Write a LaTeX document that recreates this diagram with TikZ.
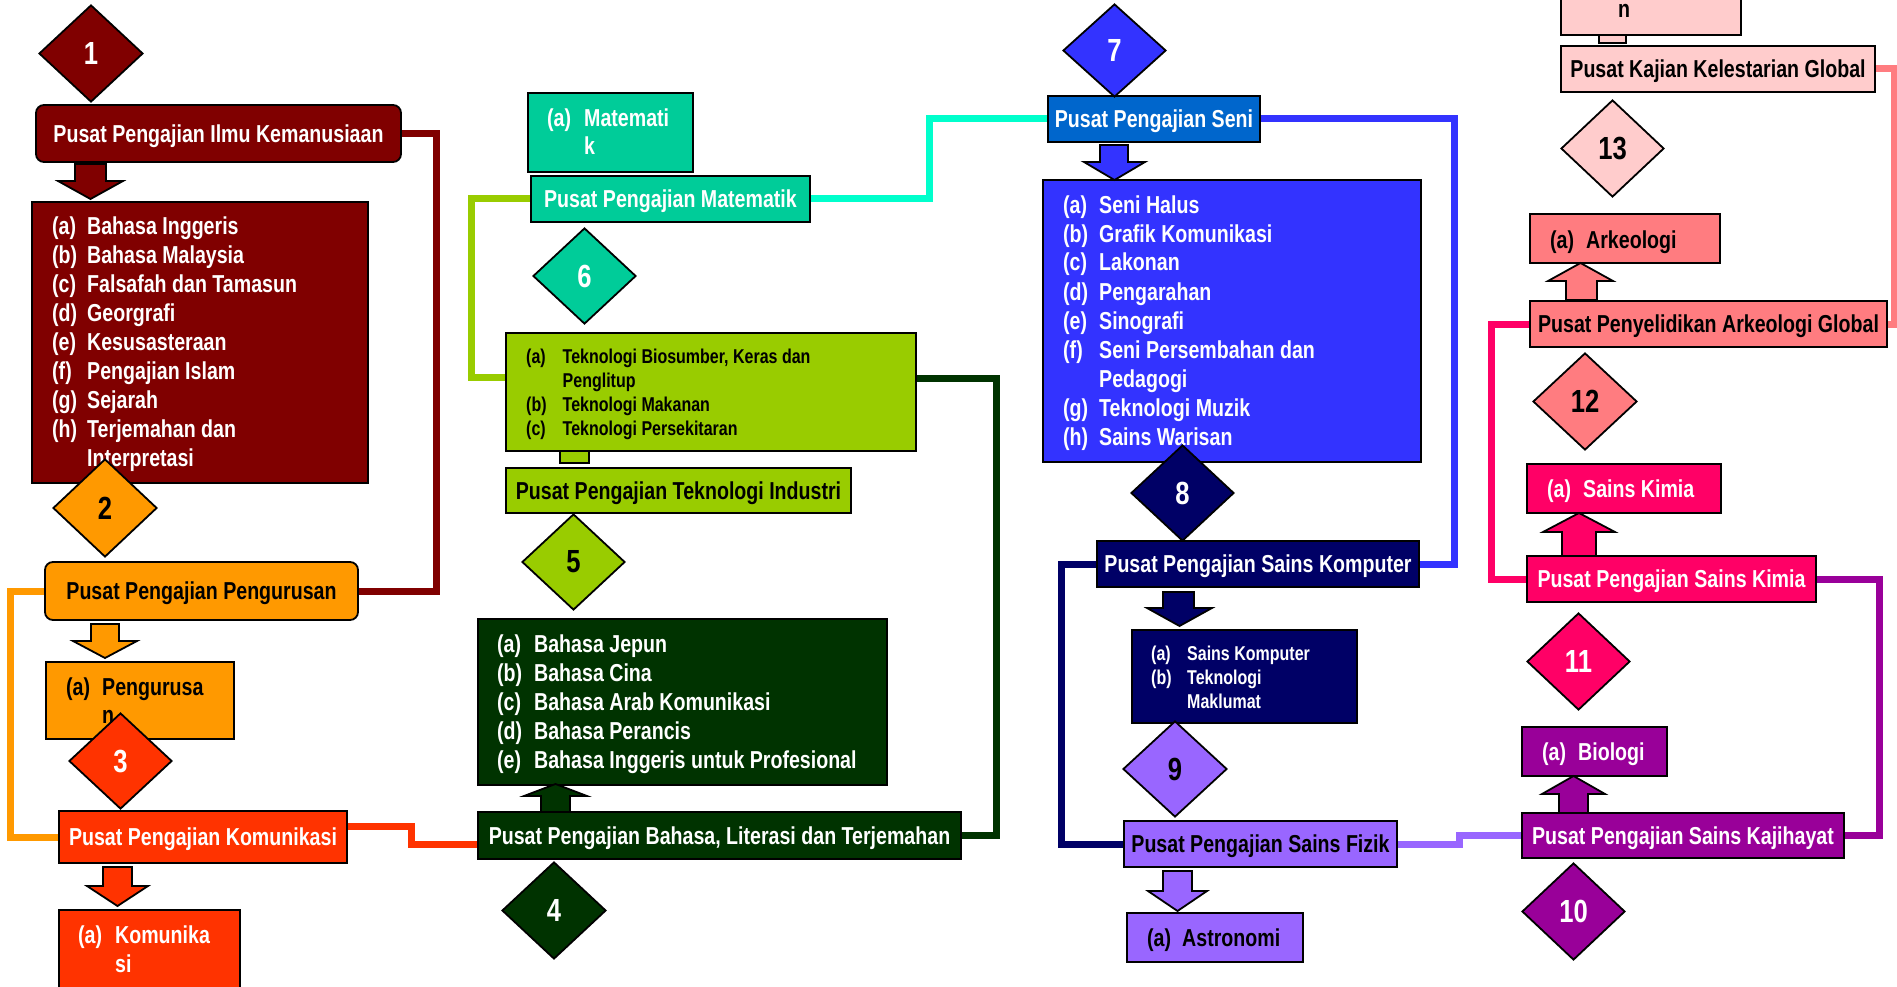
\documentclass[tikz,border=0pt]{standalone}
\usepackage{fontspec}
\setmainfont{Liberation Sans}[FakeStretch=0.8]
\usetikzlibrary{shapes.geometric}
\definecolor{cKem}{HTML}{800000}
\definecolor{cOra}{HTML}{FF9900}
\definecolor{cRed}{HTML}{FF3300}
\definecolor{cDkg}{HTML}{003300}
\definecolor{cLime}{HTML}{99CC00}
\definecolor{cTeal}{HTML}{00CC99}
\definecolor{cCyan}{HTML}{00FFCC}
\definecolor{cSeni}{HTML}{0066CC}
\definecolor{cBlue}{HTML}{3333FF}
\definecolor{cNavy}{HTML}{000066}
\definecolor{cLav}{HTML}{9966FF}
\definecolor{cPur}{HTML}{990099}
\definecolor{cPink}{HTML}{FF0066}
\definecolor{cSal}{HTML}{FF7C80}
\definecolor{cLpk}{HTML}{FFCCCC}
\pgfdeclarelayer{bg}
\pgfsetlayers{bg,main}
\newcommand\bx[7]{%
  \pgfmathsetmacro\bxw{#4-#2}\pgfmathsetmacro\bxh{#5-#3}%
  \node[#6, minimum width=\bxw pt, minimum height=\bxh pt] (#1) at ({(#2+#4)/2},{(#3+#5)/2}) {#7};}
\newcommand\blockarr[8]{%
  \draw[fill=#8, line width=1.8pt, line join=miter] (#1,#5) -- (#2,#5) -- (#2,#6) -- (#4,#6) -- ({(#3+#4)/2},#7) -- (#3,#6) -- (#1,#6) -- cycle;}
\newcommand\lab[2]{\makebox[#1pt][l]{#2}}
\begin{document}
\begin{tikzpicture}[x=1pt,y=-1pt,
  box/.style={draw=black, line width=1.8pt, inner sep=1pt, text height=17.5pt, text depth=0pt, font=\bfseries\fontsize{24.5}{29}\selectfont},
  rbox/.style={box, rounded corners=8pt},
  dia/.style={diamond, draw=black, line width=1.8pt, inner sep=0pt, font=\bfseries\fontsize{32}{36}\selectfont},
  conn/.style={line width=7pt},
  lst/.style={anchor=base west, inner sep=0pt, font=\bfseries\fontsize{24.5}{29}\selectfont},
  slst/.style={anchor=base west, inner sep=0pt, font=\bfseries\fontsize{20}{24}\selectfont}]
\useasboundingbox (0,0) rectangle (1897,987);

% ---------- boxes ----------
\bx{kem}{36}{105}{401}{162}{rbox, fill=cKem, text=white}{Pusat Pengajian Ilmu Kemanusiaan}
\bx{kemlist}{32}{202}{368}{483}{box, fill=cKem}{}
\bx{peng}{45}{562}{358}{620}{rbox, fill=cOra, text=black}{Pusat Pengajian Pengurusan}
\bx{penglist}{46}{662}{234}{739}{box, fill=cOra}{}
\bx{kom}{59}{811}{347}{863}{box, fill=cRed, text=white}{Pusat Pengajian Komunikasi}
\bx{komlist}{59}{910}{240}{1000}{box, fill=cRed}{}
\bx{matlist}{528}{93}{693}{172}{box, fill=cTeal}{}
\bx{mat}{531}{176}{810}{222}{box, fill=cTeal, text=white}{Pusat Pengajian Matematik}
\bx{teklist}{506}{333}{916}{451}{box, fill=cLime}{}
\bx{tekstub}{560}{451}{589}{463}{box, fill=cLime, inner sep=0pt, text height=0pt}{}
\bx{tek}{506}{468}{851}{513}{box, fill=cLime, text=black}{Pusat Pengajian Teknologi Industri}
\bx{bahlist}{478}{619}{887}{785}{box, fill=cDkg}{}
\bx{bah}{478}{812}{961}{859}{box, fill=cDkg, text=white}{Pusat Pengajian Bahasa, Literasi dan Terjemahan}
\bx{seni}{1048}{96}{1260}{142}{box, fill=cSeni, text=white}{Pusat Pengajian Seni}
\bx{senilist}{1043}{180}{1421}{462}{box, fill=cBlue}{}
\bx{komp}{1097}{541}{1419}{587}{box, fill=cNavy, text=white}{Pusat Pengajian Sains Komputer}
\bx{komplist}{1132}{630}{1357}{723}{box, fill=cNavy}{}
\bx{fiz}{1124}{821}{1397}{867}{box, fill=cLav, text=black}{Pusat Pengajian Sains Fizik}
\bx{astro}{1127}{913}{1303}{962}{box, fill=cLav}{}
\bx{kellist}{1561}{-10}{1741}{35}{box, fill=cLpk}{}
\bx{kelstub}{1599}{35}{1626}{43}{box, fill=cLpk, inner sep=0pt, text height=0pt}{}
\bx{kel}{1561}{46}{1875}{92}{box, fill=cLpk, text=black}{Pusat Kajian Kelestarian Global}
\bx{ark}{1530}{214}{1720}{263}{box, fill=cSal}{}
\bx{glob}{1530}{301}{1887}{347}{box, fill=cSal, text=black}{Pusat Penyelidikan Arkeologi Global}
\bx{kimlist}{1527}{464}{1721}{513}{box, fill=cPink}{}
\bx{kim}{1527}{556}{1816}{602}{box, fill=cPink, text=white}{Pusat Pengajian Sains Kimia}
\bx{bio}{1522}{727}{1667}{776}{box, fill=cPur}{}
\bx{kaj}{1522}{813}{1844}{858}{box, fill=cPur, text=white}{Pusat Pengajian Sains Kajihayat}

% ---------- list texts ----------
\node[lst, text=white] (kemtxt) at (52,234) {\begin{tabular}[t]{@{}l@{}}
\lab{35}{(a)}Bahasa Inggeris\\ \lab{35}{(b)}Bahasa Malaysia\\ \lab{35}{(c)}Falsafah dan Tamasun\\
\lab{35}{(d)}Georgrafi\\ \lab{35}{(e)}Kesusasteraan\\ \lab{35}{(f)}Pengajian Islam\\
\lab{35}{(g)}Sejarah\\ \lab{35}{(h)}Terjemahan dan\\ \lab{35}{}Interpretasi\end{tabular}};
\node[lst, text=black, font=\bfseries\fontsize{24.5}{28}\selectfont] (pengtxt) at (66,695) {\begin{tabular}[t]{@{}l@{}}
\lab{36}{(a)}Pengurusa\\ \lab{36}{}n\end{tabular}};
\node[lst, text=white] (komtxt) at (78,943) {\begin{tabular}[t]{@{}l@{}}
\lab{37}{(a)}Komunika\\ \lab{37}{}si\end{tabular}};
\node[lst, text=white, font=\bfseries\fontsize{24.5}{27.5}\selectfont] (mattxt) at (547,127) {\begin{tabular}[t]{@{}l@{}}
\lab{37}{(a)}Matemati\\ \lab{37}{}k\end{tabular}};
\node[slst, text=black] (tektxt) at (526,363) {\begin{tabular}[t]{@{}l@{}}
\lab{36.5}{(a)}Teknologi Biosumber, Keras dan\\ \lab{36.5}{}Penglitup\\
\lab{36.5}{(b)}Teknologi Makanan\\ \lab{36.5}{(c)}Teknologi Persekitaran\end{tabular}};
\node[lst, text=white] (bahtxt) at (497,652) {\begin{tabular}[t]{@{}l@{}}
\lab{37}{(a)}Bahasa Jepun\\ \lab{37}{(b)}Bahasa Cina\\ \lab{37}{(c)}Bahasa Arab Komunikasi\\
\lab{37}{(d)}Bahasa Perancis\\ \lab{37}{(e)}Bahasa Inggeris untuk Profesional\end{tabular}};
\node[lst, text=white] (senitxt) at (1063,213) {\begin{tabular}[t]{@{}l@{}}
\lab{36}{(a)}Seni Halus\\ \lab{36}{(b)}Grafik Komunikasi\\ \lab{36}{(c)}Lakonan\\
\lab{36}{(d)}Pengarahan\\ \lab{36}{(e)}Sinografi\\ \lab{36}{(f)}Seni Persembahan dan\\
\lab{36}{}Pedagogi\\ \lab{36}{(g)}Teknologi Muzik\\ \lab{36}{(h)}Sains Warisan\end{tabular}};
\node[slst, text=white] (komptxt) at (1151,660) {\begin{tabular}[t]{@{}l@{}}
\lab{36}{(a)}Sains Komputer\\ \lab{36}{(b)}Teknologi\\ \lab{36}{}Maklumat\end{tabular}};
\node[lst, text=black] (astrotxt) at (1147,946) {\lab{35}{(a)}Astronomi};
\node[lst, text=black] (keltxt) at (1618,18) {n};
\node[lst, text=black] (arktxt) at (1550,248) {\lab{36}{(a)}Arkeologi};
\node[lst, text=white] (kimtxt) at (1547,497) {\lab{36}{(a)}Sains Kimia};
\node[lst, text=white] (biotxt) at (1542,760) {\lab{36}{(a)}Biologi};

% ---------- block arrows ----------
\blockarr{75}{106}{58}{123}{164}{181}{199}{cKem}
\blockarr{91}{119}{73}{137}{624}{641}{658}{cOra}
\blockarr{103}{132}{87}{148}{867}{886}{906}{cRed}
\blockarr{541}{570}{524}{587}{812}{796}{784}{cDkg}
\blockarr{1100}{1128}{1084}{1145}{145}{162}{180}{cBlue}
\blockarr{1163}{1194}{1147}{1212}{592}{608}{626}{cNavy}
\blockarr{1163}{1192}{1148}{1207}{871}{891}{911}{cLav}
\blockarr{1566}{1597}{1548}{1613}{300}{281}{263}{cSal}
\blockarr{1562}{1596}{1543}{1615}{556}{532}{513}{cPink}
\blockarr{1559}{1588}{1542}{1605}{813}{794}{776}{cPur}

% ---------- diamonds ----------
\node[dia, fill=cKem, text=white, minimum width=104pt, minimum height=97pt] (d1) at (91,53.5) {1};
\node[dia, fill=cOra, text=black, minimum width=104pt, minimum height=98pt] (d2) at (105,508) {2};
\node[dia, fill=cRed, text=white, minimum width=103pt, minimum height=96pt] (d3) at (120.5,761) {3};
\node[dia, fill=cDkg, text=white, minimum width=104pt, minimum height=97pt] (d4) at (554,910.5) {4};
\node[dia, fill=cLime, text=black, minimum width=103pt, minimum height=96pt] (d5) at (573.5,562) {5};
\node[dia, fill=cTeal, text=white, minimum width=103pt, minimum height=96pt] (d6) at (584.5,276) {6};
\node[dia, fill=cBlue, text=white, minimum width=103pt, minimum height=93pt] (d7) at (1114.5,50.5) {7};
\node[dia, fill=cNavy, text=white, minimum width=103pt, minimum height=96pt] (d8) at (1182.5,493) {8};
\node[dia, fill=cLav, text=black, minimum width=104pt, minimum height=96pt] (d9) at (1175,769) {9};
\node[dia, fill=cPur, text=white, minimum width=103pt, minimum height=97pt] (d10) at (1573.5,911.5) {10};
\node[dia, fill=cPink, text=white, minimum width=103pt, minimum height=97pt] (d11) at (1578.5,661.5) {11};
\node[dia, fill=cSal, text=black, minimum width=104pt, minimum height=97pt] (d12) at (1585,401.5) {12};
\node[dia, fill=cLpk, text=black, minimum width=103pt, minimum height=97pt] (d13) at (1612.5,148.5) {13};

% ---------- connectors ----------
\begin{pgfonlayer}{bg}
\draw[conn, cKem] (kem.east) -- (436,133.5) |- (peng.east);
\draw[conn, cOra] (peng.west) -- (10,591) |- (kom.west);
\draw[conn, cRed] (kom.east |- 0,826.5) -- (411,826.5) -- (411,844) -- (bah.west |- 0,844);
\draw[conn, cLime] (mat.west) -- (471,199) |- (teklist.west |- 0,377.5);
\draw[conn, cCyan] (mat.east) -- (929,199) |- (seni.west);
\draw[conn, cDkg] (teklist.east |- 0,378) -- (996,378) |- (bah.east);
\draw[conn, cBlue] (seni.east) -- (1454.5,119) |- (komp.east);
\draw[conn, cNavy] (komp.west) -- (1061,564) |- (fiz.west);
\draw[conn, cLav] (fiz.east) -- (1459.5,844) |- (kaj.west);
\draw[conn, cPur] (kim.east) -- (1879.5,579) |- (kaj.east);
\draw[conn, cPink] (glob.west) -- (1491,324) |- (kim.west);
\draw[conn, cSal] (kel.east) -- (1894,69) |- (glob.east);
\end{pgfonlayer}
\end{tikzpicture}
\end{document}
